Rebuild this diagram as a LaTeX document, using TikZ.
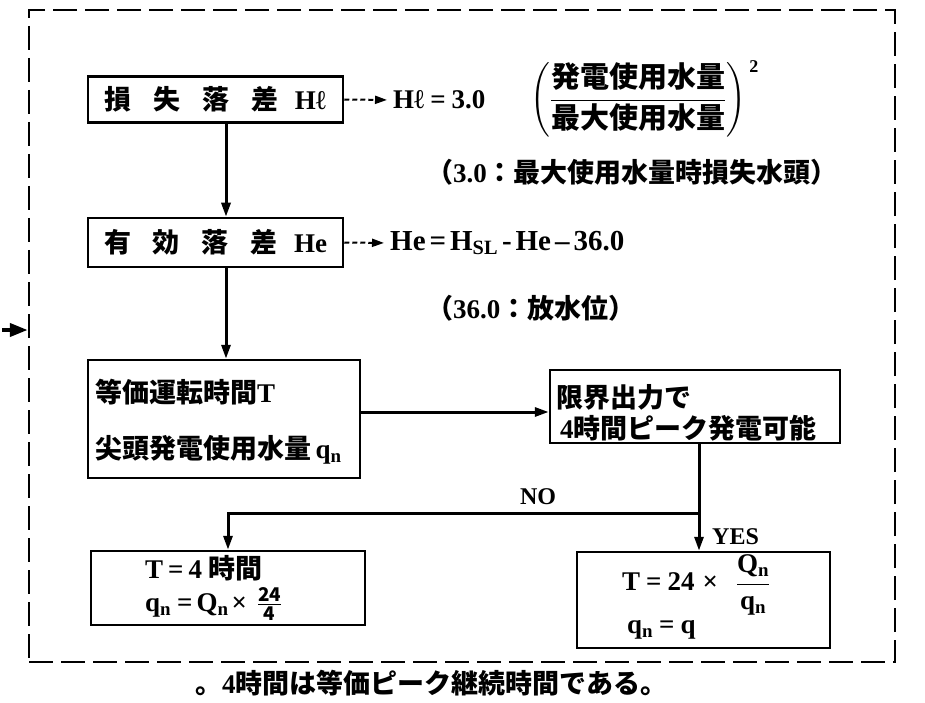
\documentclass[tikz,border=0pt]{standalone}
\usepackage{fix-cm}
\usepackage{amsmath}
\usepackage{fontspec}
\setmainfont{Liberation Serif}
\newfontfamily\jp{Noto Sans CJK JP}
\usetikzlibrary{arrows.meta}
\newcommand{\lat}[1]{{\rmfamily\bfseries #1}}
\newcommand{\qnn}{q\textsubscript{n}}
\newcommand{\Qnn}{Q\textsubscript{n}}
\begin{document}
\begin{tikzpicture}[x=1pt,y=-1pt,
  boxst/.style={draw,line width=2.5pt,inner sep=0pt},
  conn/.style={line width=3pt,-{Triangle[length=14pt,width=9pt]}},
  dconn/.style={line width=2pt,dash pattern=on 5pt off 3pt,-{Triangle[length=12pt,width=8pt]},shorten >=6pt},
  txt/.style={font=\fontsize{27}{31}\selectfont\jp\bfseries, inner sep=0pt},
  lbl/.style={font=\fontsize{24}{28}\selectfont\rmfamily\bfseries, inner sep=0pt},
  framest/.style={draw,line width=2.5pt, dash pattern=on 24pt off 8pt, inner sep=0pt},
]
\fill[white] (0,0) rectangle (925,703);
\useasboundingbox (0,0) rectangle (925,703);

% outer dashed frame
\node[framest,minimum width=866,minimum height=652] (frame) at (462,336) {};
\coordinate (inL) at (2,330);
\draw[line width=4pt,-{Triangle[length=18pt,width=13pt]}] (inL) -- (inL -| frame.west);

% helper coordinates
\coordinate (ax) at (226,0);
\coordinate (ay) at (0,412);
\coordinate (jx) at (699,0);

% boxes
\node[boxst,txt,minimum width=255,minimum height=46] (b1) at (215.5,99.5)
  {損\hspace{22pt}失\hspace{22pt}落\hspace{22pt}差\hspace{16pt}\lat{Hℓ}};
\node[boxst,txt,minimum width=255,minimum height=49] (b2) at (215.5,242.5)
  {有\hspace{22pt}効\hspace{22pt}落\hspace{22pt}差\hspace{16pt}\lat{He}};
\node[boxst,minimum width=272,minimum height=118] (b3) at (224,419) {};
\node[boxst,minimum width=290,minimum height=73] (b4) at (695,406.5) {};
\node[boxst,minimum width=274,minimum height=74] (b5) at (228,588) {};
\node[boxst,minimum width=253,minimum height=96] (b6) at (703.5,600) {};

% box texts
\node[txt,anchor=west] (t3a) at (95,392) {等価運転時間\lat{T}};
\node[txt,anchor=west] (t3b) at (95,450) {尖頭発電使用水量\,\lat{\qnn}};
\node[txt,anchor=west] (t4a) at (556,397) {限界出力で};
\node[txt,anchor=west] (t4b) at (560,428) {\lat{4}時間ピーク発電可能};
\node[txt,anchor=west] (t5a) at (145,568) {\lat{T\hspace{5pt}=\hspace{5pt}4 }時間};
\node[txt,anchor=west] (t5b) at (145,604) {\lat{\qnn\hspace{6pt}=\hspace{4pt}\Qnn\hspace{3pt}×\hspace{10pt}}$\frac{\textbf{24}}{\textbf{4}}$};
\node[txt,anchor=west] (t6a) at (622,585) {\lat{T\hspace{6pt}=\hspace{6pt}24\hspace{8pt}×}\hspace{18pt}$\dfrac{\text{\lat{\Qnn}}}{\text{\lat{\qnn}}}$};
\node[txt,anchor=west] (t6b) at (627,630) {\lat{\qnn\hspace{6pt}=\hspace{6pt}q}};

% formulas and notes
\node[txt,anchor=west] (f1a) at (393,100) {\lat{Hℓ\hspace{6pt}=\hspace{6pt}3.0}};
\node[anchor=west,inner sep=0pt,font=\fontsize{29}{33}\selectfont\jp\bfseries] (f1b) at (530,100)
  {$\left(\dfrac{\text{発電使用水量}}{\text{最大使用水量}}\right)$};
\node[anchor=north west,inner sep=0pt,font=\fontsize{18}{20}\selectfont\rmfamily\bfseries] (f1c) at ([xshift=3pt,yshift=2pt]f1b.north east) {2};
\node[txt,anchor=west] (n1) at (426,172) {（\lat{3.0}：最大使用水量時損失水頭）};
\node[anchor=west,inner sep=0pt,font=\fontsize{29}{33}\selectfont\rmfamily\bfseries] (f2) at (390,243)
  {He\hspace{4pt}=\hspace{4pt}H\textsubscript{SL}\hspace{4pt}-\hspace{4pt}He\hspace{4pt}--\hspace{4pt}36.0};
\node[txt,anchor=west] (n2) at (426,308) {（\lat{36.0}：放水位）};

% labels
\node[lbl] (no) at (538,497) {NO};
\node[lbl,anchor=west] (yes) at (712,537) {YES};

% caption
\node[txt,anchor=west] (cap) at (195,683) {。\lat{4}時間は等価ピーク継続時間である。};

% connectors
\draw[dconn] (b1.east) -- (f1a.west);
\draw[dconn] (b2.east) -- (f2.west);
\draw[conn] (b1.south -| ax) -- (b2.north -| ax);
\draw[conn] (b2.south -| ax) -- (b3.north -| ax);
\draw[conn] (b3.east |- ay) -- (b4.west |- ay);
\coordinate (j) at (699,513);
\coordinate (k) at (228,513);
\draw[conn] (b4.south -| jx) -- (jx |- b6.north);
\draw[conn] (j) -- (k) -- (k |- b5.north);
\end{tikzpicture}
\end{document}
